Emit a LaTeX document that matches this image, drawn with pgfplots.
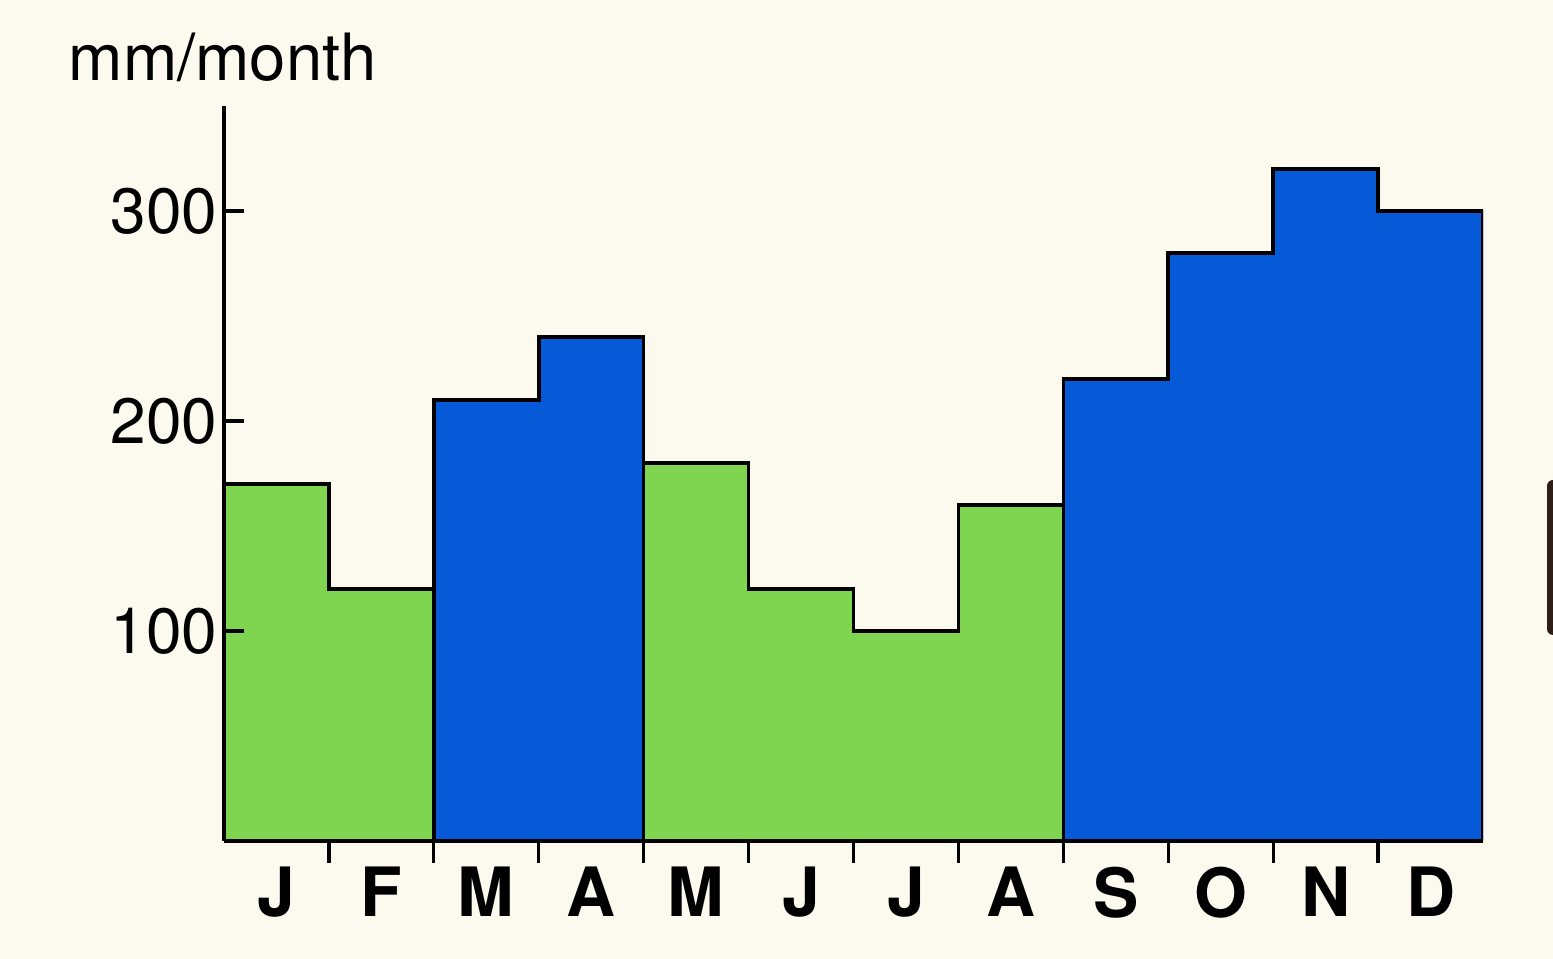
\documentclass[border=0pt]{standalone}
\usepackage{fontspec}
\setmainfont{TeX Gyre Heros}
\usepackage{pgfplots}
\pgfplotsset{compat=1.18}
\definecolor{bg}{RGB}{252,250,238}
\definecolor{grn}{RGB}{128,213,80}
\definecolor{blu}{RGB}{6,90,216}
\definecolor{frag}{RGB}{45,30,25}
\begin{document}
\begin{tikzpicture}[x=1pt,y=1pt]
\fill[bg] (0,0) rectangle (388.25,239.75);
\path[use as bounding box] (0,0) rectangle (388.25,239.75);
\fill[frag, rounded corners=1.5pt] (386.75,81) rectangle (394,119.75);
\node[anchor=base west, inner sep=0pt, font=\fontsize{16.3}{18}\selectfont] at (17,219.5) {mm/month};
\begin{axis}[
  at={(56pt,29.5pt)}, anchor=south west,
  scale only axis, width=314.75pt, height=183.75pt,
  xmin=0, xmax=12, ymin=0, ymax=350,
  axis x line=bottom, axis y line=left,
  axis line style={-, line width=0.85pt, black},
  axis on top,
  xtick align=outside, ytick align=inside,
  major tick length=5pt, minor tick length=5.5pt,
  tick style={line width=0.8pt, black},
  xtick={0.5,1.5,...,11.5},
  xticklabels={J,F,M,A,M,J,J,A,S,O,N,D},
  major x tick style={draw=none},
  minor xtick={1,...,11},
  ytick={100,200,300},
  x tick label style={font=\fontsize{17}{20}\selectfont\bfseries, inner sep=1.3pt},
  y tick label style={font=\fontsize{16}{18}\selectfont, inner sep=1.5pt},
  /pgf/number format/assume math mode=true,
]
\addplot[const plot, fill=grn, draw=black, line width=0.9pt] coordinates {(0,170) (1,120) (2,120)} \closedcycle;
\addplot[const plot, fill=blu, draw=black, line width=0.9pt] coordinates {(2,210) (3,240) (4,240)} \closedcycle;
\addplot[const plot, fill=grn, draw=black, line width=0.9pt] coordinates {(4,180) (5,120) (6,100) (7,160) (8,160)} \closedcycle;
\addplot[const plot, fill=blu, draw=black, line width=0.9pt] coordinates {(8,220) (9,280) (10,320) (11,300) (12,300)} \closedcycle;
\end{axis}
\end{tikzpicture}
\end{document}
